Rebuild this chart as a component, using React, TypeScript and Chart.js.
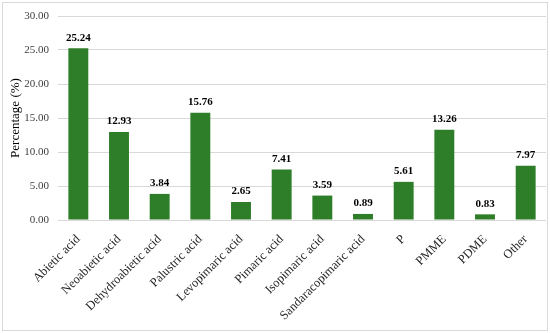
import React, { useEffect, useRef } from "react";
import { Chart, registerables } from "chart.js";

Chart.register(...registerables);

const categories = [
  "Abietic acid",
  "Neoabietic acid",
  "Dehydroabietic acid",
  "Palustric acid",
  "Levopimaric acid",
  "Pimaric acid",
  "Isopimaric acid",
  "Sandaracopimaric acid",
  "P",
  "PMME",
  "PDME",
  "Other",
];
const percentages = [25.24, 12.93, 3.84, 15.76, 2.65, 7.41, 3.59, 0.89, 5.61, 13.26, 0.83, 7.97];
const yTicks = [0, 5, 10, 15, 20, 25, 30];

const FONT = "'Liberation Serif', 'DejaVu Serif', serif";

const borderPlugin = {
  id: "outerBorder",
  beforeDraw(chart: any) {
    const ctx = chart.ctx;
    ctx.save();
    ctx.fillStyle = "#ffffff";
    ctx.fillRect(0, 0, chart.width, chart.height);
    ctx.strokeStyle = "#d9d9d9";
    ctx.lineWidth = 1;
    ctx.strokeRect(2.5, 2.5, chart.width - 5, chart.height - 5);
    ctx.restore();
  },
};

const labelPlugin = {
  id: "valueLabels",
  afterDatasetsDraw(chart: any) {
    const ctx = chart.ctx;
    const meta = chart.getDatasetMeta(0);
    const data = chart.data.datasets[0].data as number[];
    ctx.save();
    ctx.font = `bold 11px ${FONT}`;
    ctx.fillStyle = "#000000";
    ctx.textAlign = "center";
    ctx.textBaseline = "bottom";
    meta.data.forEach((bar: any, i: number) => {
      ctx.fillText(data[i].toFixed(2), bar.x, bar.y - 5);
    });
    ctx.restore();
  },
};

export default function App() {
  const ref = useRef<HTMLCanvasElement>(null);
  useEffect(() => {
    document.body.style.margin = "0";
    const chart = new Chart(ref.current as HTMLCanvasElement, {
      type: "bar",
      data: {
        labels: categories,
        datasets: [
          {
            data: percentages,
            backgroundColor: "#2E7D28",
            categoryPercentage: 1,
            barPercentage: 0.49,
          },
        ],
      },
      options: {
        animation: false,
        responsive: false,
        layout: { padding: { top: 16, right: 4, left: 0, bottom: 0 } },
        plugins: { legend: { display: false }, tooltip: { enabled: false } },
        scales: {
          x: {
            grid: { display: false },
            border: { display: false },
            ticks: {
              autoSkip: false,
              maxRotation: 45,
              minRotation: 45,
              padding: 4,
              color: "#262626",
              font: { family: FONT, size: 12.5 },
            },
            afterFit(scale: any) {
              scale.height = 113;
            },
          },
          y: {
            min: 0,
            max: 30,
            afterBuildTicks(scale: any) {
              scale.ticks = yTicks.map((v) => ({ value: v }));
            },
            grid: { color: "#d9d9d9", drawTicks: false, lineWidth: 1 },
            border: { display: false },
            ticks: {
              padding: 9,
              color: "#404040",
              font: { family: FONT, size: 11 },
              callback: (v: any) => Number(v).toFixed(2),
            },
            title: {
              display: true,
              text: "Percentage (%)",
              color: "#000000",
              font: { family: FONT, size: 13 },
              padding: { top: 8, bottom: 4 },
            },
            afterFit(scale: any) {
              scale.width = 58;
            },
          },
        },
      },
      plugins: [borderPlugin, labelPlugin],
    });
    return () => chart.destroy();
  }, []);
  return <canvas ref={ref} width={550} height={333} style={{ display: "block" }} />;
}
